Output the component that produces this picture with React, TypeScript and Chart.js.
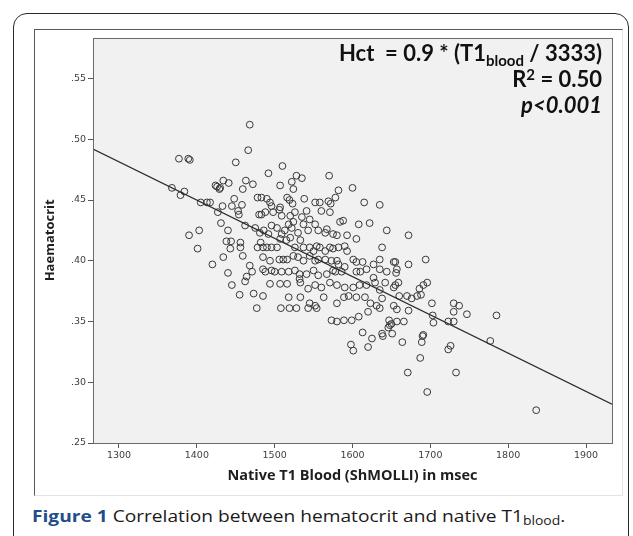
import React, { useEffect, useRef } from "react";
import { Chart, registerables } from "chart.js";

Chart.register(...registerables);

// Native T1 blood (ShMOLLI, msec) and haematocrit for each subject
const t1Blood = [
  1368, 1377, 1379, 1384, 1389, 1391, 1390, 1403, 1401, 1405, 1413, 1417, 1420, 1424, 1426, 1429, 1430, 1427, 1431, 1433,
  1434, 1441, 1434, 1438, 1444, 1440, 1443, 1440, 1448, 1445, 1450, 1453, 1454, 1456, 1456, 1458, 1459, 1459, 1462, 1463,
  1466, 1464, 1468, 1471, 1472, 1475, 1478, 1480, 1478, 1468,
  1507, 1522, 1524, 1483, 1490, 1494, 1496, 1507, 1516, 1519, 1523, 1538, 1552, 1558, 1569, 1572, 1578, 1635,
  1483, 1488, 1498, 1506, 1509, 1520, 1526, 1535, 1541, 1545, 1560, 1571, 1584, 1588, 1608, 1622, 1644,
  1481, 1486, 1492, 1496, 1503, 1509, 1513, 1518, 1522, 1524, 1530, 1537, 1543, 1552, 1556, 1565, 1567, 1575, 1580, 1593, 1605,
  1482, 1485, 1490, 1496, 1503, 1507, 1515, 1520, 1526, 1533, 1537, 1545, 1550, 1554, 1558, 1565, 1571, 1575, 1582, 1590, 1593, 1638,
  1485, 1494, 1506, 1511, 1516, 1524, 1530, 1537, 1545, 1552, 1556, 1565, 1573, 1580, 1582, 1601, 1605, 1613, 1627, 1635, 1653,
  1485, 1488, 1496, 1500, 1509, 1518, 1526, 1532, 1532, 1541, 1550, 1556, 1567, 1575, 1578, 1586, 1590, 1605, 1610, 1618, 1627, 1635, 1644, 1657,
  1494, 1507, 1516, 1533, 1543, 1552, 1560, 1571, 1580, 1590, 1601, 1609, 1618, 1629, 1635, 1642, 1653,
  1485, 1518, 1533, 1545, 1552, 1563, 1580, 1589, 1595, 1605, 1616, 1623, 1631, 1638, 1653,
  1477, 1508, 1519, 1528, 1543, 1554, 1573, 1580, 1589, 1599, 1608, 1620, 1635, 1647, 1650,
  1672, 1655, 1672, 1694, 1656, 1659, 1655, 1696, 1691, 1686, 1688, 1660, 1670, 1676, 1683, 1657, 1672, 1702, 1730, 1737,
  1730, 1747, 1785, 1703, 1704, 1723, 1730, 1657, 1666, 1648, 1646, 1638, 1639, 1651, 1691, 1690, 1664, 1689, 1777, 1726,
  1723, 1687, 1671, 1733, 1696, 1836,
  1445, 1462, 1455, 1473, 1598, 1601, 1620, 1625, 1613, 1492, 1510, 1528, 1535, 1570, 1582, 1615, 1600,
];

const haematocrit = [
  0.460, 0.484, 0.454, 0.457, 0.484, 0.483, 0.421, 0.425, 0.410, 0.448, 0.448, 0.448, 0.397, 0.462, 0.461, 0.459, 0.460, 0.440, 0.431, 0.445,
  0.466, 0.464, 0.403, 0.416, 0.416, 0.425, 0.410, 0.390, 0.451, 0.445, 0.481, 0.441, 0.438, 0.415, 0.411, 0.446, 0.404, 0.459, 0.429, 0.466,
  0.491, 0.387, 0.396, 0.391, 0.463, 0.427, 0.452, 0.438, 0.411, 0.512,
  0.462, 0.465, 0.459, 0.452, 0.451, 0.448, 0.445, 0.444, 0.452, 0.450, 0.447, 0.451, 0.448, 0.448, 0.449, 0.447, 0.452, 0.446,
  0.438, 0.440, 0.440, 0.442, 0.437, 0.437, 0.440, 0.436, 0.441, 0.434, 0.441, 0.440, 0.432, 0.433, 0.430, 0.431, 0.425,
  0.423, 0.425, 0.422, 0.429, 0.427, 0.422, 0.425, 0.430, 0.427, 0.432, 0.423, 0.430, 0.425, 0.430, 0.425, 0.423, 0.426, 0.422, 0.421, 0.421, 0.418,
  0.415, 0.411, 0.411, 0.411, 0.411, 0.418, 0.417, 0.419, 0.411, 0.417, 0.411, 0.411, 0.408, 0.412, 0.411, 0.408, 0.411, 0.410, 0.411, 0.412, 0.408, 0.411,
  0.403, 0.400, 0.401, 0.401, 0.401, 0.404, 0.403, 0.400, 0.404, 0.400, 0.401, 0.401, 0.400, 0.400, 0.397, 0.401, 0.399, 0.399, 0.397, 0.401, 0.399,
  0.393, 0.391, 0.392, 0.391, 0.391, 0.391, 0.392, 0.389, 0.385, 0.389, 0.392, 0.388, 0.389, 0.392, 0.391, 0.391, 0.395, 0.391, 0.391, 0.393, 0.386, 0.393, 0.391, 0.393,
  0.381, 0.381, 0.381, 0.382, 0.377, 0.380, 0.378, 0.382, 0.380, 0.378, 0.378, 0.380, 0.380, 0.382, 0.376, 0.382, 0.378,
  0.371, 0.370, 0.370, 0.365, 0.363, 0.370, 0.365, 0.370, 0.371, 0.370, 0.370, 0.365, 0.363, 0.369, 0.363,
  0.361, 0.361, 0.361, 0.361, 0.361, 0.361, 0.351, 0.350, 0.351, 0.351, 0.354, 0.358, 0.361, 0.351, 0.348,
  0.421, 0.399, 0.397, 0.401, 0.390, 0.382, 0.380, 0.382, 0.380, 0.377, 0.372, 0.371, 0.371, 0.369, 0.371, 0.360, 0.359, 0.365, 0.365, 0.363,
  0.358, 0.356, 0.355, 0.355, 0.349, 0.350, 0.350, 0.350, 0.350, 0.347, 0.345, 0.340, 0.338, 0.340, 0.339, 0.338, 0.333, 0.333, 0.334, 0.330,
  0.327, 0.320, 0.308, 0.308, 0.292, 0.277,
  0.380, 0.383, 0.372, 0.373, 0.331, 0.326, 0.329, 0.336, 0.341, 0.472, 0.478, 0.470, 0.468, 0.470, 0.458, 0.448, 0.460,
];

// Fit line end points (at the axis limits)
const fitT1 = [1266.6, 1933.4];
const fitHct = [0.492, 0.282];

const xTicks = [1300, 1400, 1500, 1600, 1700, 1800, 1900];
const xTickLabels = ["1300", "1400", "1500", "1600", "1700", "1800", "1900"];
const yTicks = [0.25, 0.3, 0.35, 0.4, 0.45, 0.5, 0.55];
const yTickLabels = [".25", ".30", ".35", ".40", ".45", ".50", ".55"];

const xMin = 1266.6;
const xMax = 1933.4;
const yMin = 0.25;
const yMax = 0.5836;

const xTitle = "Native T1 Blood (ShMOLLI) in msec";
const yTitle = "Haematocrit";

const plotFrame = {
  id: "plotFrame",
  beforeDraw(chart: any) {
    const { ctx, chartArea: a } = chart;
    ctx.save();
    ctx.fillStyle = "#f1f1f1";
    ctx.fillRect(a.left, a.top, a.right - a.left, a.bottom - a.top);
    ctx.restore();
  },
  afterDraw(chart: any) {
    const { ctx, chartArea: a } = chart;
    ctx.save();
    ctx.strokeStyle = "#6a6a6a";
    ctx.lineWidth = 1;
    ctx.strokeRect(Math.round(a.left) + 0.5, Math.round(a.top) + 0.5, Math.round(a.right - a.left), Math.round(a.bottom - a.top));
    ctx.restore();
  },
};

export default function App() {
  const canvasRef = useRef<HTMLCanvasElement | null>(null);

  useEffect(() => {
    if (!canvasRef.current) return;
    const tickFont = { family: "'DejaVu Sans', sans-serif", size: 9.5 };
    const xTitleFont = { family: "'Open Sans', sans-serif", size: 14.5, weight: "bold" as const, lineHeight: 1.2 };
    const yTitleFont = { family: "'Open Sans', sans-serif", size: 13, weight: "bold" as const, lineHeight: 1.2 };
    const chart = new Chart(canvasRef.current, {
      type: "scatter",
      data: {
        datasets: [
          {
            type: "line",
            data: fitT1.map((x, i) => ({ x, y: fitHct[i] })),
            borderColor: "#2b2b2b",
            borderWidth: 1.3,
            pointRadius: 0,
            fill: false,
            order: 0,
          } as any,
          {
            data: t1Blood.map((x, i) => ({ x, y: haematocrit[i] })),
            pointRadius: 3.4,
            pointBorderWidth: 1,
            pointBorderColor: "#383838",
            pointBackgroundColor: "rgba(0,0,0,0)",
            order: 1,
          },
        ],
      },
      options: {
        responsive: false,
        animation: false,
        events: [],
        layout: { padding: { top: 6, right: 11, left: 0, bottom: 0 } },
        plugins: { legend: { display: false }, tooltip: { enabled: false } },
        scales: {
          x: {
            type: "linear",
            min: xMin,
            max: xMax,
            afterBuildTicks: (s: any) => {
              s.ticks = xTicks.map((v) => ({ value: v }));
            },
            afterFit: (s: any) => {
              s.height = 53;
            },
            ticks: {
              font: tickFont,
              color: "#404040",
              padding: 2,
              autoSkip: false,
              maxRotation: 0,
              callback: (v: any) => xTickLabels[xTicks.indexOf(v)],
            },
            grid: { drawOnChartArea: false, drawTicks: true, tickLength: 5, tickColor: "#555", color: "#555" },
            border: { display: false },
            title: { display: true, text: xTitle, font: xTitleFont, color: "#1e1e1e", padding: { top: 0, bottom: 11 } },
          },
          y: {
            type: "linear",
            min: yMin,
            max: yMax,
            afterBuildTicks: (s: any) => {
              s.ticks = yTicks.map((v) => ({ value: v }));
            },
            afterFit: (s: any) => {
              s.width = 58;
            },
            ticks: {
              font: tickFont,
              color: "#404040",
              padding: 2,
              autoSkip: false,
              callback: (v: any) => yTickLabels[yTicks.indexOf(v)],
            },
            grid: { drawOnChartArea: false, drawTicks: true, tickLength: 5, tickColor: "#555", color: "#555" },
            border: { display: false },
            title: { display: true, text: yTitle, font: yTitleFont, color: "#1e1e1e", padding: { top: 7, bottom: 0 } },
          },
        },
      },
      plugins: [plotFrame],
    });
    return () => chart.destroy();
  }, []);

  const eqFont = "'Lato', 'Open Sans', sans-serif";

  return (
    <div style={{ position: "absolute", left: 0, top: 0, width: 633, height: 536, overflow: "hidden", background: "#fff" }}>
      <div
        style={{
          position: "absolute",
          left: 13,
          top: 13,
          width: 616,
          height: 600,
          border: "1.5px solid #2a2a2a",
          borderRadius: 14,
          boxSizing: "border-box",
        }}
      />
      <div
        style={{
          position: "absolute",
          left: 34,
          top: 29,
          width: 589,
          height: 467,
          borderTop: "1px solid #5a5a5a",
          borderLeft: "1px solid #5a5a5a",
          borderRight: "1px solid #e4e4e4",
          borderBottom: "1px solid #e4e4e4",
          boxSizing: "border-box",
          background: "#fff",
        }}
      >
        <canvas ref={canvasRef} width={588} height={466} style={{ position: "absolute", left: 0, top: 0, width: 588, height: 466 }} />
      </div>
      <div
        style={{
          position: "absolute",
          right: 31,
          top: 40,
          textAlign: "right",
          fontFamily: eqFont,
          fontWeight: 700,
          fontSize: 22,
          lineHeight: "26px",
          color: "#111",
          whiteSpace: "nowrap",
        }}
      >
        <div>
          Hct&nbsp; = 0.9 * (T1<sub style={{ fontSize: 15, verticalAlign: "-5px", lineHeight: 0 }}>blood</sub> / 3333)
        </div>
        <div>
          R<sup style={{ fontSize: 15, verticalAlign: "7px", lineHeight: 0 }}>2</sup> = 0.50
        </div>
        <div style={{ fontStyle: "italic" }}>p&lt;0.001</div>
      </div>
      <div
        style={{
          position: "absolute",
          left: 32,
          top: 505,
          fontFamily: "'Open Sans', sans-serif",
          fontSize: 16.5,
          lineHeight: "22px",
          color: "#1a1a1a",
          whiteSpace: "nowrap",
          transform: "scaleX(1.16)",
          transformOrigin: "0 0",
        }}
      >
        <span style={{ fontWeight: 700, color: "#1f4e8c" }}>Figure 1</span> Correlation between hematocrit and native T1
        <sub style={{ fontSize: 12, verticalAlign: "-3px", lineHeight: 0 }}>blood</sub>.
      </div>
    </div>
  );
}
